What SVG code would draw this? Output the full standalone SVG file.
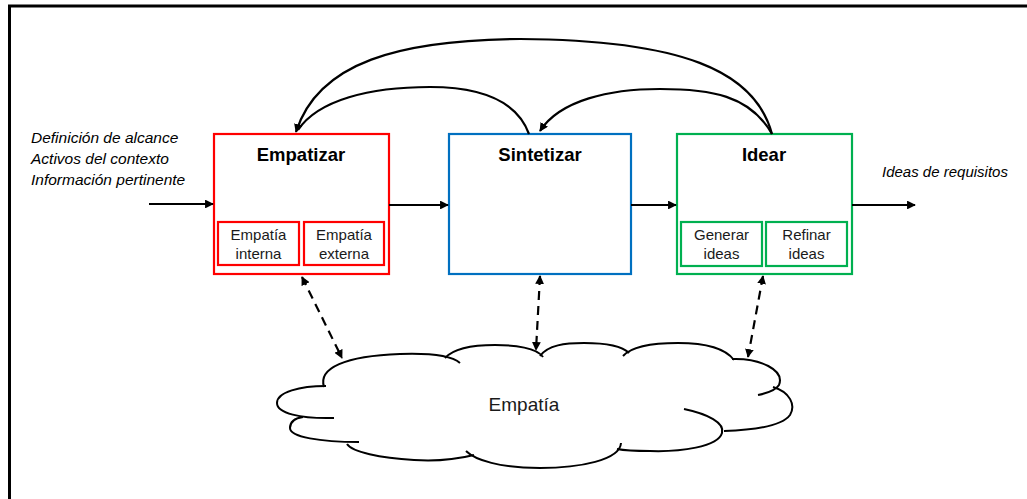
<svg xmlns="http://www.w3.org/2000/svg" width="1027" height="499" viewBox="0 0 1027 499">
<defs>
<style>
.frame{stroke:#000;stroke-width:3;fill:none}
.box{fill:#fff;stroke-width:2.2}
.red{stroke:#FF0000}
.blue{stroke:#0070C0}
.green{stroke:#00B050}
.title{font-family:"Liberation Sans",Arial,sans-serif;font-weight:bold;font-size:18.5px;fill:#000;text-anchor:middle}
.sub{font-family:"Liberation Sans",Arial,sans-serif;font-size:15px;fill:#1a1a1a;text-anchor:middle}
.ital{font-family:"Liberation Sans",Arial,sans-serif;font-style:italic;font-size:15.5px;fill:#000}
.cloudtxt{font-family:"Liberation Sans",Arial,sans-serif;font-size:19px;fill:#1a1a1a;text-anchor:middle}
.conn{fill:none;stroke:#000;stroke-width:2.2}
.dash{fill:none;stroke:#000;stroke-width:2.2;stroke-dasharray:9,6}
.cloud path{fill:none;stroke:#000;stroke-width:2}
</style>
<marker id="ah" viewBox="0 0 10 10" refX="9" refY="5" markerWidth="4" markerHeight="4" orient="auto-start-reverse" markerUnits="strokeWidth">
<path d="M0,0 L10,5 L0,10 z" fill="#000"/>
</marker>
</defs>
<rect width="1027" height="499" fill="#fff"/>
<g id="frame">
<line class="frame" x1="8" y1="6" x2="1027" y2="6"/>
<line class="frame" x1="9.5" y1="5" x2="9.5" y2="499"/>
</g>
<g id="inputs">
<text class="ital" x="31" y="143">Definición de alcance</text>
<text class="ital" x="31" y="164">Activos del contexto</text>
<text class="ital" x="31" y="185">Información pertinente</text>
</g>
<g id="output-label">
<text class="ital" x="882" y="177" style="font-size:15px">Ideas de requisitos</text>
</g>
<g id="empatizar">
<rect class="box red" x="214" y="134" width="175" height="140"/>
<text class="title" x="301" y="161">Empatizar</text>
<rect class="box red" x="218" y="222" width="81" height="43"/>
<text class="sub" x="258.5" y="240">Empatía</text>
<text class="sub" x="258.5" y="259">interna</text>
<rect class="box red" x="304" y="222" width="80" height="43"/>
<text class="sub" x="344" y="240">Empatía</text>
<text class="sub" x="344" y="259">externa</text>
</g>
<g id="sintetizar">
<rect class="box blue" x="449" y="134" width="182" height="140"/>
<text class="title" x="540" y="161">Sintetizar</text>
</g>
<g id="idear">
<rect class="box green" x="677" y="134" width="175" height="140"/>
<text class="title" x="764" y="161">Idear</text>
<rect class="box green" x="681" y="222" width="81" height="44"/>
<text class="sub" x="721.5" y="240">Generar</text>
<text class="sub" x="721.5" y="259">ideas</text>
<rect class="box green" x="766" y="222" width="81" height="44"/>
<text class="sub" x="806.5" y="240">Refinar</text>
<text class="sub" x="806.5" y="259">ideas</text>
</g>
<g id="empatia-cloud" class="cloud">
<path d="M324,387 C318,368 345,356 400,354 C430,353 452,356 460,363"/>
<path d="M445,358 C455,347 475,345 495,345 C515,345 537,348 543,357"/>
<path d="M540,356 C548,345 565,343 584,343 C605,343 622,346 629,353"/>
<path d="M623,356 C632,346 655,343 678,343 C705,343 725,348 734,360"/>
<path d="M732,359 C760,358 785,370 779,385 C776,390 768,393 758,395"/>
<path d="M773,387 C790,392 796,405 790,415 C782,426 755,430 724,431"/>
<path d="M684,409 C708,414 725,423 722,433 C718,447 680,452 650,451 C635,451 622,450 617,449"/>
<path d="M621,443 C620,460 580,468 540,468 C500,468 475,460 466,451"/>
<path d="M474,455 C450,461 430,461 414,460 C380,458 352,452 347,444"/>
<path d="M359,442 C320,442 290,437 290,428 C290,421 296,418 303,417"/>
<path d="M334,418 C300,419 277,413 277,403 C277,392 300,386 326,386"/>
<text class="cloudtxt" x="524" y="411">Empatía</text>
</g>
<g id="connectors">
<line class="conn" x1="149" y1="204" x2="213" y2="204" marker-end="url(#ah)"/>
<line class="conn" x1="389" y1="205" x2="448" y2="205" marker-end="url(#ah)"/>
<line class="conn" x1="631" y1="205" x2="676" y2="205" marker-end="url(#ah)"/>
<line class="conn" x1="852" y1="205" x2="915" y2="205" marker-end="url(#ah)"/>
<path class="conn" d="M772,134 C755,70 680,40 520,39 C400,40 318,62 296,132" marker-end="url(#ah)"/>
<path class="conn" d="M529,134 C515,96 470,87 430,87 C370,87 318,100 298,130"/>
<path class="conn" d="M772,134 C750,95 710,89 660,89 C610,89 560,100 540,131" marker-end="url(#ah)"/>
<line class="dash" x1="302" y1="277" x2="342" y2="358" marker-start="url(#ah)" marker-end="url(#ah)"/>
<line class="dash" x1="540" y1="276" x2="536" y2="350" marker-start="url(#ah)" marker-end="url(#ah)"/>
<line class="dash" x1="763" y1="276" x2="748" y2="357" marker-start="url(#ah)" marker-end="url(#ah)"/>
</g>
</svg>
